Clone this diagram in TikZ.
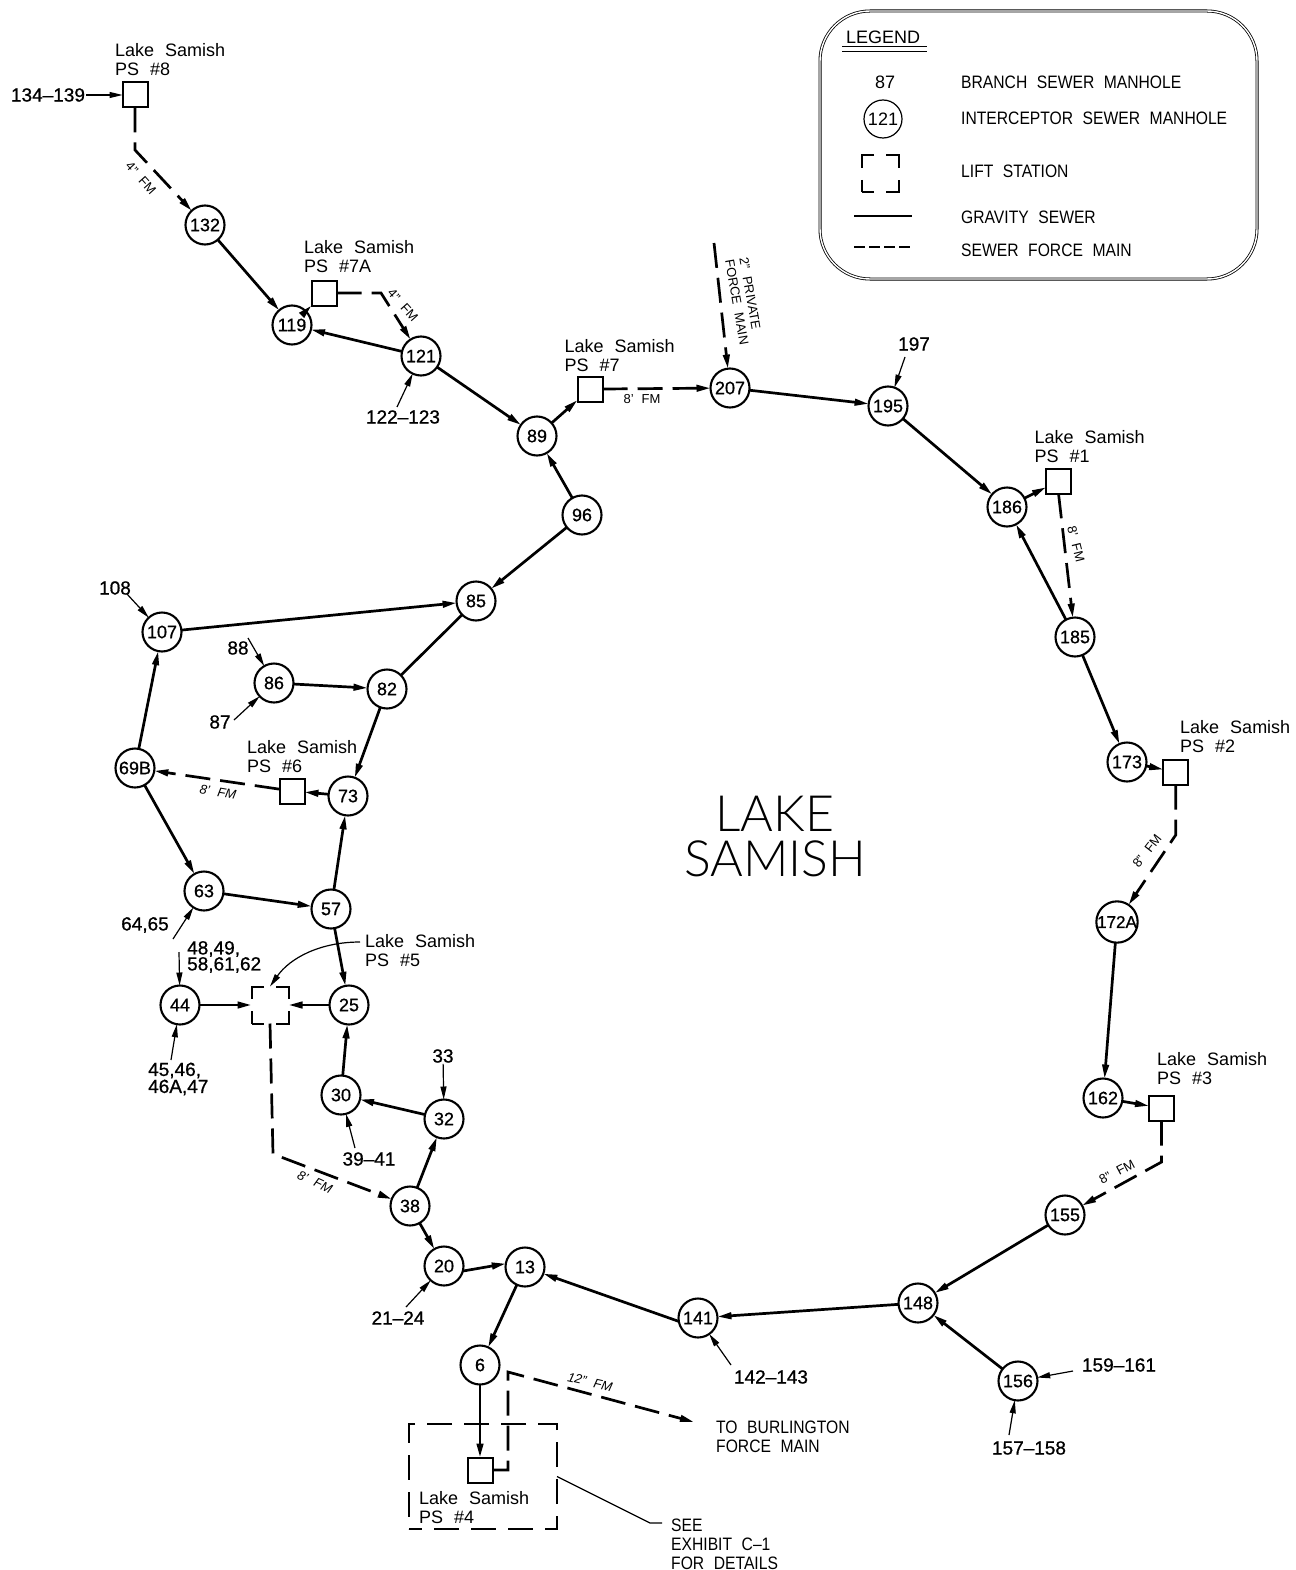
\documentclass[tikz,border=0pt]{standalone}
\usepackage{fontspec}
\setmainfont[WordSpace=2.2]{Liberation Sans}
\newfontfamily\numfont[WordSpace=2.2,FakeBold=0.8]{Liberation Sans}
\newfontfamily\capfont[WordSpace=2.2,FakeStretch=0.87]{Liberation Sans}
\newfontfamily\lakefont[UprightFont=* Light]{Lato}
\usetikzlibrary{positioning,arrows.meta}
\tikzset{
  mh/.style     = {circle, draw, line width=2.1pt, minimum size=39pt, inner sep=0pt, outer sep=0pt, font=\numfont\fontsize{18}{18}\selectfont},
  ps/.style     = {rectangle, draw, line width=2pt, minimum size=25pt, inner sep=0pt, outer sep=0pt},
  lift/.style   = {rectangle, draw, line width=2pt, minimum size=37pt, inner sep=0pt, outer sep=0pt, dash pattern=on 25pt off 12pt, dash phase=12.5pt},
  txt/.style    = {align=left, anchor=west, inner sep=0pt, font=\fontsize{18}{19}\selectfont},
  captxt/.style = {txt, font=\capfont\fontsize{18}{19}\selectfont},
  num/.style    = {align=left, inner sep=1pt, font=\numfont\fontsize{19}{16}\selectfont},
  fm/.style     = {inner sep=0pt, align=left, font=\fontsize{13}{14.5}\selectfont},
  fmit/.style   = {fm, font=\itshape\fontsize{13}{14.5}\selectfont},
  flow/.style   = {-{Triangle[length=14pt,width=6.5pt]}, line width=2.7pt},
  force/.style  = {-{Triangle[length=14pt,width=6.5pt]}, line width=2.7pt, dash pattern=on 25pt off 10pt},
  branch/.style = {-{Triangle[length=13pt,width=6pt]}, line width=1.2pt},
  lead/.style   = {line width=1.3pt},
}
\begin{document}
\begin{tikzpicture}[x=1pt,y=-1pt]
  \useasboundingbox (0,0) rectangle (1295,1570);

  % legend
  \node[draw, minimum width=437pt, minimum height=268pt, rounded corners=50pt, double, double distance=1.4pt, line width=0.8pt] (legend) at (1038.5,145) {};
  \node[txt] (legtitle) at (846,37) {LEGEND};
  \coordinate (ula) at (842,49);
  \coordinate (ulb) at (927,49);
  \draw[double, double distance=3.6pt, line width=1.1pt] (ula) -- (ulb);
  \node[txt, anchor=center] (leg87) at (885,82) {87};
  \node[circle, draw, line width=1.2pt, minimum size=38pt, inner sep=0pt, font=\fontsize{18}{18}\selectfont] (leg121) at (883,119) {121};
  \node[lift] (leglift) at (880,174) {};
  \coordinate (grava) at (854,216);
  \coordinate (gravb) at (912,216);
  \coordinate (fma) at (854,247);
  \coordinate (fmb) at (912,247);
  \draw[line width=2.6pt] (grava) -- (gravb);
  \draw[line width=2.6pt, dash pattern=on 11pt off 4pt] (fma) -- (fmb);
  \node[captxt] (t1) at (961,82) {BRANCH SEWER MANHOLE};
  \node[captxt] (t2) at (961,118) {INTERCEPTOR SEWER MANHOLE};
  \node[captxt] (t3) at (961,171) {LIFT STATION};
  \node[captxt] (t4) at (961,217) {GRAVITY SEWER};
  \node[captxt] (t5) at (961,250) {SEWER FORCE MAIN};

  \node[font=\lakefont\fontsize{50}{45}\selectfont, align=center, inner sep=0pt] (lake) at (775,837) {LAKE\\SAMISH};

  % manholes
  \node[mh] (n132) at (205,225) {132};
  \node[mh] (n119) at (292,325) {119};
  \node[mh] (n121) at (421,356) {121};
  \node[mh] (n89) at (537,436) {89};
  \node[mh] (n96) at (582,515) {96};
  \node[mh] (n85) at (476,601) {85};
  \node[mh] (n107) at (162,632) {107};
  \node[mh] (n86) at (274,683) {86};
  \node[mh] (n82) at (387,689) {82};
  \node[mh] (n73) at (348,796) {73};
  \node[mh] (n69B) at (135,768) {69B};
  \node[mh] (n63) at (204,891) {63};
  \node[mh] (n57) at (331,909) {57};
  \node[mh] (n25) at (349,1005) {25};
  \node[mh] (n44) at (180,1005) {44};
  \node[mh] (n30) at (341,1095) {30};
  \node[mh] (n32) at (444,1119) {32};
  \node[mh] (n38) at (410,1206) {38};
  \node[mh] (n20) at (444,1266) {20};
  \node[mh] (n13) at (525,1267) {13};
  \node[mh] (n6) at (480,1365) {6};
  \node[mh] (n141) at (698,1318) {141};
  \node[mh] (n148) at (918,1303) {148};
  \node[mh] (n156) at (1018,1381) {156};
  \node[mh] (n155) at (1065,1215) {155};
  \node[mh] (n162) at (1103,1098) {162};
  \node[mh, font=\numfont\fontsize{17}{17}\selectfont] (n172A) at (1117,922) {172A};
  \node[mh] (n173) at (1127,762) {173};
  \node[mh] (n185) at (1075,637) {185};
  \node[mh] (n186) at (1007,507) {186};
  \node[mh] (n195) at (888,406) {195};
  \node[mh] (n207) at (730,388) {207};

  % pump stations
  \node[ps] (ps8) at (135,95) {};
  \node[ps] (ps7A) at (324,293) {};
  \node[ps] (ps7) at (590,389) {};
  \node[ps] (ps1) at (1058.5,481) {};
  \node[ps] (ps2) at (1175.7,772) {};
  \node[ps] (ps3) at (1161.5,1108) {};
  \node[ps] (ps6) at (292,791) {};
  \node[lift] (ps5) at (270,1005) {};
  \node[ps] (ps4) at (480,1470) {};
  \node[draw, line width=2.2pt, minimum width=148pt, minimum height=105pt, inner sep=0pt, outer sep=0pt, dash pattern=on 25pt off 12pt, dash phase=12pt] (frame) at (483,1476.5) {};

  \node[txt] (lbl8) at (115,60) {Lake Samish\\PS \#8};
  \node[txt] (lbl7A) at (304,257) {Lake Samish\\PS \#7A};
  \node[txt] (lbl7) at (564.5,356) {Lake Samish\\PS \#7};
  \node[txt] (lbl1) at (1034.5,447) {Lake Samish\\PS \#1};
  \node[txt] (lbl2) at (1180,737) {Lake Samish\\PS \#2};
  \node[txt] (lbl3) at (1157,1069) {Lake Samish\\PS \#3};
  \node[txt] (lbl6) at (247,757) {Lake Samish\\PS \#6};
  \node[txt] (lbl5) at (365,951) {Lake Samish\\PS \#5};
  \node[txt] (lbl4) at (419,1508) {Lake Samish\\PS \#4};
  \node[captxt] (burl) at (716,1437) {TO BURLINGTON\\FORCE MAIN};
  \node[captxt] (see) at (671,1544) {SEE\\EXHIBIT C–1\\FOR DETAILS};

  % gravity sewers
  \draw[flow] (n132) -- (n119);
  \draw[flow] (n121) -- (n119);
  \draw[flow] (n119) -- (ps7A);
  \draw[flow] (n121) -- (n89);
  \draw[flow] (n96) -- (n89);
  \draw[flow] (n89) -- (ps7);
  \draw[flow] (n96) -- (n85);
  \draw[flow] (n107) -- (n85);
  \draw[line width=2.7pt] (n85) -- (n82);
  \draw[flow] (n86) -- (n82);
  \draw[flow] (n82) -- (n73);
  \draw[flow] (n57) -- (n73);
  \draw[flow] (n73) -- (ps6);
  \draw[flow] (n69B) -- (n107);
  \draw[flow] (n69B) -- (n63);
  \draw[flow] (n63) -- (n57);
  \draw[flow] (n57) -- (n25);
  \draw[flow] (n25) -- (ps5);
  \draw[flow] (n44) -- (ps5);
  \draw[flow] (n30) -- (n25);
  \draw[flow] (n32) -- (n30);
  \draw[flow] (n38) -- (n32);
  \draw[flow] (n38) -- (n20);
  \draw[flow] (n20.-15) -- (n13.170);
  \draw[flow] (n141.190) -- (n13.-20);
  \draw[flow] (n13) -- (n6);
  \draw[flow] (n6) -- (ps4);
  \draw[flow] (n148) -- (n141);
  \draw[flow] (n155) -- (n148);
  \draw[flow] (n156) -- (n148);
  \draw[flow] (n172A) -- (n162);
  \draw[flow] (n162) -- (ps3);
  \draw[flow] (n173) -- (ps2);
  \draw[flow] (n185) -- (n173);
  \draw[flow] (n185) -- (n186);
  \draw[flow] (n186) -- (ps1);
  \draw[flow] (n195) -- (n186);
  \draw[flow] (n207) -- (n195);

  % force mains
  \coordinate (k8) at (135,150);
  \coordinate (k7A) at (381,293);
  \coordinate (priv) at (714,243);
  \coordinate (k2) at (1175.7,835);
  \coordinate (k3) at (1161.5,1162);
  \coordinate (k5) at (273,1154);
  \coordinate (k4a) at (508,1470);
  \coordinate (k4b) at (508,1372);
  \coordinate (k4c) at (694,1422);
  \draw[force] (ps8.south) -- (k8) -- (n132);
  \draw[force] (ps7A.east) -- (k7A) -- (n121);
  \draw[force] (ps7.east) -- (n207);
  \draw[force] (priv) -- (n207);
  \draw[force] (ps1.south) -- (n185);
  \draw[force] (ps2.south) -- (k2) -- (n172A);
  \draw[force] (ps3.south) -- (k3) -- (n155);
  \draw[force] (ps6) -- (n69B);
  \draw[force] (ps5.south) -- (k5) -- (n38);
  \draw[force] (ps4.east) -- (k4a) -- (k4b) -- (k4c);

  \node[fm, rotate=-48] (f8) at (141,178) {4" FM};
  \node[fm, rotate=-48] (f7A) at (403,305) {4" FM};
  \node[fm] (f7) at (642,399) {8' FM};
  \node[fm, rotate=-80] (fpriv) at (744,301) {2" PRIVATE\\FORCE MAIN};
  \node[fm, rotate=-76] (f1) at (1076,544) {8' FM};
  \node[fm, rotate=52] (f2) at (1147,851) {8" FM};
  \node[fm, rotate=28] (f3) at (1117,1172) {8" FM};
  \node[fmit, rotate=-10] (f6) at (218,792) {8' FM};
  \node[fmit, rotate=-25] (f5) at (315,1182) {8' FM};
  \node[fmit, rotate=-13] (f4) at (590,1382) {12" FM};

  % branch sewers
  \node[num] (b134) at (48,95) {134–139};
  \node[num] (b122) at (403,417) {122–123};
  \node[num] (b197) at (914,344) {197};
  \node[num] (b108) at (115,588) {108};
  \node[num] (b88) at (238,648) {88};
  \node[num] (b87) at (220,722) {87};
  \node[num] (b64) at (145,925) {64,65};
  \node[num, anchor=west] (b48) at (186,957) {48,49,\\58,61,62};
  \node[num, anchor=west, font=\numfont\fontsize{19}{17}\selectfont] (b45) at (147,1079) {45,46,\\46A,47};
  \node[num] (b33) at (443,1056) {33};
  \node[num] (b39) at (369,1159) {39–41};
  \node[num] (b21) at (398,1318) {21–24};
  \node[num] (b142) at (771,1377) {142–143};
  \node[num] (b159) at (1119,1365) {159–161};
  \node[num] (b157) at (1029,1448) {157–158};
  \coordinate (s122) at (397,407);
  \coordinate (s197) at (905,357);
  \coordinate (s108) at (127,594);
  \coordinate (s88) at (248,638);
  \coordinate (s87) at (234,720);
  \coordinate (s64) at (173,939);
  \coordinate (s48) at (179,952);
  \coordinate (s45) at (171,1060);
  \coordinate (s39) at (355,1148);
  \coordinate (s21) at (406,1307);
  \coordinate (s142) at (731,1365);
  \coordinate (s159) at (1073,1371);
  \coordinate (s157) at (1009,1435);
  \coordinate (s5) at (360,942);
  \draw[branch] (b134) -- (ps8);
  \draw[branch] (s122) -- (n121);
  \draw[branch] (s197) -- (n195);
  \draw[branch] (s108) -- (n107);
  \draw[branch] (s88) -- (n86);
  \draw[branch] (s87) -- (n86);
  \draw[branch] (s64) -- (n63);
  \draw[branch] (s48) -- (n44);
  \draw[branch] (s45) -- (n44);
  \draw[branch] (b33) -- (n32);
  \draw[branch] (s39) -- (n30);
  \draw[branch] (s21) -- (n20);
  \draw[branch] (s142) -- (n141);
  \draw[branch] (s159) -- (n156);
  \draw[branch] (s157) -- (n156);
  \draw[branch] (s5) .. controls (320,942) and (290,958) .. (ps5.north);

  % detail note
  \coordinate (seek) at (650,1523);
  \coordinate (seee) at (662,1523);
  \draw[lead] (frame.east) -- (seek) -- (seee);
\end{tikzpicture}
\end{document}
